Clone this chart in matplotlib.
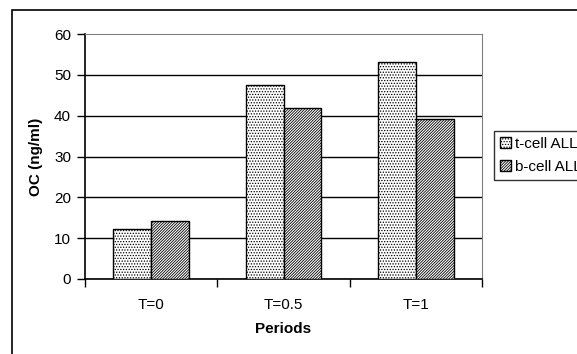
import matplotlib
matplotlib.use("Agg")
import matplotlib.pyplot as plt
from matplotlib.patches import Rectangle, Patch
import numpy as np

# Data
periods = ["T=0", "T=0.5", "T=1"]
t_cell = [12.3, 47.5, 53.1]
b_cell = [14.2, 42.0, 39.2]
series_names = ["t-cell ALL", "b-cell ALL"]

plt.rcParams["font.family"] = ["Liberation Sans", "DejaVu Sans"]
plt.rcParams["hatch.linewidth"] = 0.6

W, H = 577, 354
fig = plt.figure(figsize=(W / 100, H / 100), dpi=100)

# outer chart frame (runs past the right/bottom edge)
fig.patches.append(Rectangle((12 / W, -0.1), 1.2, (H - 10) / H + 0.1,
                             transform=fig.transFigure, fill=False,
                             edgecolor="black", linewidth=1.2))

ax = fig.add_axes([85 / W, 1 - 279 / H, (482 - 85) / W, (279 - 34) / H])

dots = "......"
lines = "////////////"

x = np.arange(len(periods))
w = 38 / 133
ax.bar(x - w / 2, t_cell, w, facecolor="white", edgecolor="black",
       linewidth=1, hatch=dots, zorder=3)
ax.bar(x + w / 2, b_cell, w, facecolor="white", edgecolor="black",
       linewidth=1, hatch=lines, zorder=3)

ax.set_xlim(-0.5, 2.5)
ax.set_ylim(0, 60)
ax.set_yticks(range(0, 61, 10))
ax.tick_params(axis="y", length=6, width=1, labelsize=11, pad=4)
ax.set_xticks(x)
ax.set_xticklabels(periods)
ax.tick_params(axis="x", which="major", length=0, labelsize=11, pad=14)
ax.set_xticks([-0.5, 0.5, 1.5, 2.5], minor=True)
ax.tick_params(axis="x", which="minor", length=6, width=1)

ax.yaxis.grid(True, color="black", linewidth=1, zorder=1)
ax.set_axisbelow(True)
ax.get_ygridlines()[-1].set_visible(False)

for s in ["top", "right"]:
    ax.spines[s].set_color("#808080")
for s in ["left", "bottom"]:
    ax.spines[s].set_color("black")
    ax.spines[s].set_linewidth(1.2)

ax.set_ylabel("OC (ng/ml)", fontsize=11, fontweight="bold", labelpad=8)
ax.set_xlabel("Periods", fontsize=11, fontweight="bold", labelpad=7)

handles = [Patch(facecolor="white", edgecolor="black", hatch=dots),
           Patch(facecolor="white", edgecolor="black", hatch=lines)]
leg = fig.legend(handles, series_names, loc="upper left",
                 bbox_to_anchor=(494 / W, 1 - 131 / H), fontsize=11,
                 frameon=True, fancybox=False, handlelength=0.7,
                 handleheight=0.7, handletextpad=0.3, borderpad=0.4,
                 labelspacing=0.55, borderaxespad=0)
leg.get_frame().set_edgecolor("black")
leg.get_frame().set_linewidth(1)

fig.savefig("out.png", dpi=100)
